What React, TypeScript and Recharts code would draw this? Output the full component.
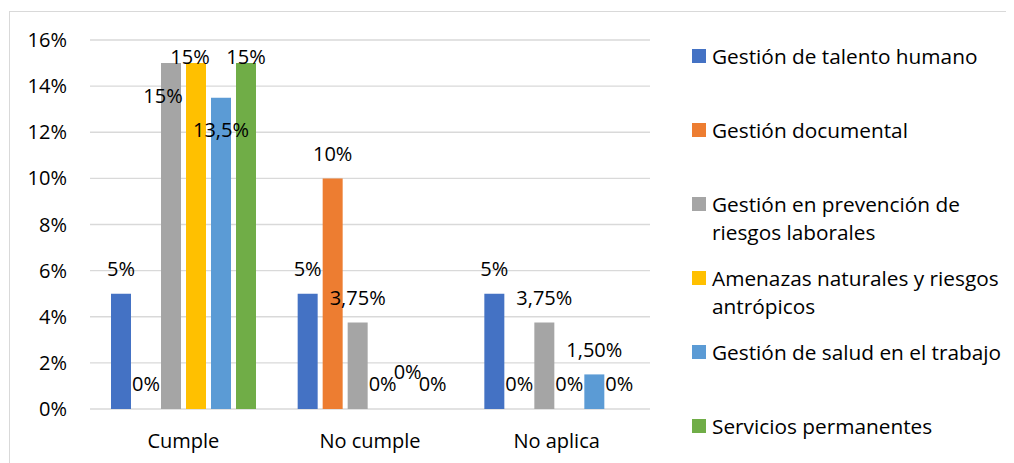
import { Bar, BarChart, CartesianGrid, LabelList, Legend, XAxis, YAxis } from "recharts";

const FONT = "'Open Sans', sans-serif";

const categories = ["Cumple", "No cumple", "No aplica"];
const talentoHumano = [5, 5, 5];
const gestionDocumental = [0, 10, 0];
const prevencionRiesgos = [15, 3.75, 3.75];
const amenazasNaturales = [15, 0, 0];
const saludTrabajo = [13.5, 0, 1.5];
const serviciosPermanentes = [15, 0, 0];
const yTicks = [0, 2, 4, 6, 8, 10, 12, 14, 16];

const series = [
  { key: "talento", name: "Gestión de talento humano", values: talentoHumano, color: "#4472C4" },
  { key: "documental", name: "Gestión documental", values: gestionDocumental, color: "#ED7D31" },
  { key: "prevencion", name: "Gestión en prevención de riesgos laborales", values: prevencionRiesgos, color: "#A5A5A5" },
  { key: "amenazas", name: "Amenazas naturales y riesgos antrópicos", values: amenazasNaturales, color: "#FFC000" },
  { key: "salud", name: "Gestión de salud en el trabajo", values: saludTrabajo, color: "#5B9BD5" },
  { key: "servicios", name: "Servicios permanentes", values: serviciosPermanentes, color: "#70AD47" },
];

// labels that were dragged off their default spot (dx, dy in px), keyed by series:category
const labelNudge: Record<string, [number, number]> = {
  "prevencion:Cumple": [-8, 57],
  "amenazas:Cumple": [-6, 18],
  "salud:Cumple": [0, 57],
  "servicios:Cumple": [0, 18],
  "salud:No cumple": [0, -12],
};

// some labels keep a fixed number of decimals
const labelDigits: Record<string, number> = {
  "salud:No aplica": 2,
};

const rows = categories.map((name, i) => {
  const row: Record<string, string | number> = { name };
  series.forEach((s) => {
    row[s.key] = s.values[i];
  });
  return row;
});

const formatPct = (v: number, digits?: number) =>
  (digits !== undefined ? v.toFixed(digits) : String(v)).replace(".", ",") + "%";

// zero bars would otherwise be dropped, and their "0%" label with them
const keepZero = (v: number) => (v === 0 ? 0.01 : 0);

const makeLabel = (key: string) => (props: any) => {
  const { x, y, width, value, payload, index } = props;
  const cat = payload?.name ?? categories[index];
  const id = `${key}:${cat}`;
  const [dx, dy] = labelNudge[id] ?? [0, 0];
  return (
    <text
      x={Number(x) + Number(width) / 2 + dx}
      y={Number(y) - 17.5 + dy}
      textAnchor="middle"
      fill="#000"
      fontSize={20}
      fontFamily={FONT}
    >
      {formatPct(Number(value), labelDigits[id])}
    </text>
  );
};

const renderLegend = () => (
  <div style={{ fontFamily: FONT, fontSize: 20.8, color: "#000" }}>
    {series.map((s) => (
      <div key={s.key} style={{ display: "flex", alignItems: "flex-start", height: 74 }}>
        <span
          style={{ width: 14, height: 14, background: s.color, marginTop: 7, marginRight: 6, flex: "none" }}
        />
        <span style={{ lineHeight: "28px", width: 298 }}>{s.name}</span>
      </div>
    ))}
  </div>
);

export default function App() {
  return (
    <div style={{ position: "relative", width: 1006, height: 455 }}>
      <style>{"html,body{overflow:hidden}"}</style>
      <div
        style={{
          position: "absolute",
          left: 1,
          top: 3,
          width: 1005,
          height: 452,
          borderTop: "1px solid #d9d9d9",
          borderLeft: "1px solid #d9d9d9",
          boxSizing: "border-box",
        }}
      />
      <BarChart
        width={1006}
        height={455}
        data={rows}
        margin={{ top: 32, right: 364, bottom: 0, left: 0 }}
        barSize={20}
        barGap={5}
      >
        <CartesianGrid vertical={false} stroke="#d9d9d9" strokeWidth={1.3} />
        <XAxis
          dataKey="name"
          height={54}
          axisLine={false}
          tickLine={false}
          tickSize={0}
          tickMargin={25}
          tick={{ fill: "#000", fontSize: 20, fontFamily: FONT }}
        />
        <YAxis
          width={82}
          domain={[0, 16]}
          ticks={yTicks}
          tickFormatter={(v) => `${v}%`}
          axisLine={false}
          tickLine={false}
          tickSize={0}
          tickMargin={23}
          tick={{ fill: "#000", fontSize: 20, fontFamily: FONT }}
        />
        <Legend
          layout="vertical"
          align="center"
          verticalAlign="middle"
          content={renderLegend}
          wrapperStyle={{ left: 684, top: 34, width: 322 }}
        />
        {series.map((s) => (
          <Bar
            key={s.key}
            dataKey={s.key}
            name={s.name}
            fill={s.color}
            minPointSize={keepZero}
            isAnimationActive={false}
          >
            <LabelList dataKey={s.key} content={makeLabel(s.key)} />
          </Bar>
        ))}
      </BarChart>
    </div>
  );
}
